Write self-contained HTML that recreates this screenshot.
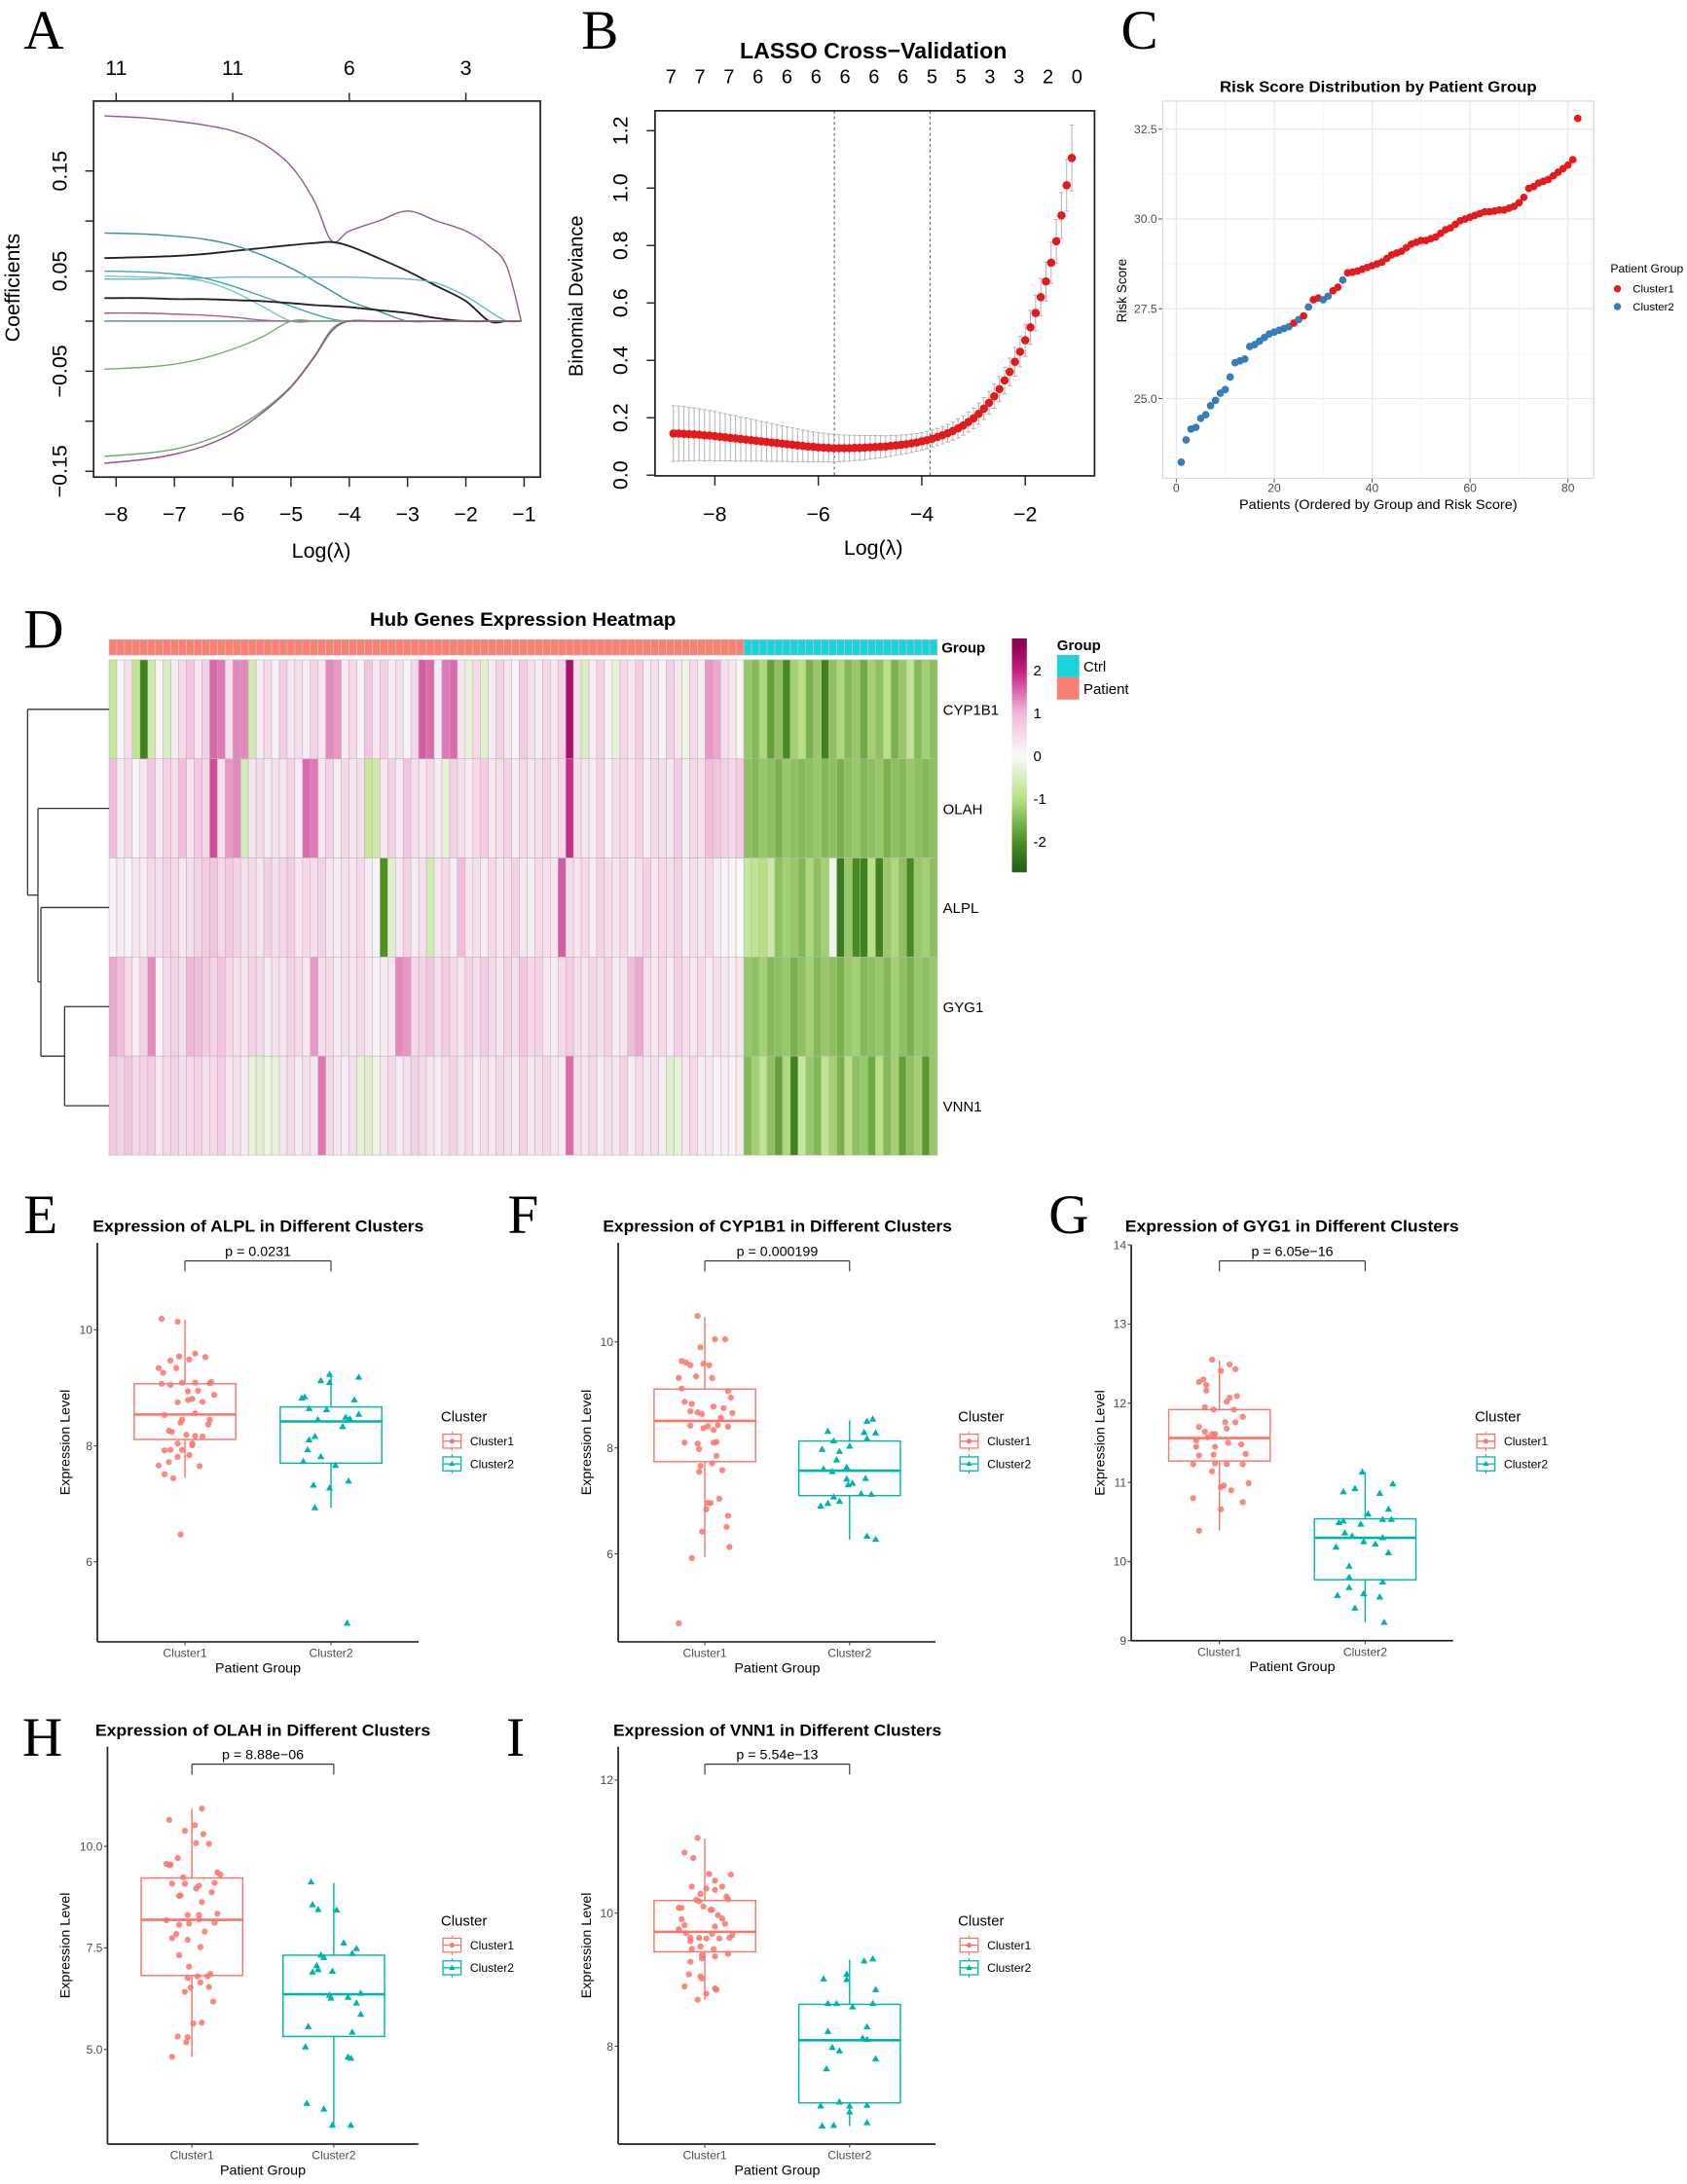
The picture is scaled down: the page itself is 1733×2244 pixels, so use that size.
<!DOCTYPE html>
<html><head><meta charset="utf-8">
<style>html,body{margin:0;padding:0;background:#fff}svg{display:block}</style>
</head><body>
<svg id="fig" xmlns="http://www.w3.org/2000/svg" width="1733" height="2244" viewBox="0 0 1213 1571" preserveAspectRatio="none" font-family="'Liberation Sans', Arial, sans-serif"></svg>
<script>
// ===== Panel A data (LASSO coefficient paths) =====
const aGrid=[-8.2,-7.5,-7,-6.5,-6,-5.5,-5,-4.6,-4.3,-4,-3.5,-3,-2.5,-2,-1.6,-1.3,-1.05];
const aTopLam=[-8,-6,-4,-2];
const aTopLabels=['11','11','6','3'];
const aXTicks=[-8,-7,-6,-5,-4,-3,-2,-1];
const aYTicks=[0.15,0.10,0.05,0,-0.05,-0.10,-0.15];
const aYLabels=['0.15','','0.05','','\u22120.05','','\u22120.15'];
const aPath1=[0.205,0.203,0.2,0.196,0.19,0.178,0.155,0.12,0.08,0.09,0.1,0.11,0.1,0.09,0.075,0.055,0];
const aPath2=[0.063,0.064,0.065,0.067,0.07,0.073,0.076,0.078,0.079,0.075,0.063,0.05,0.035,0.02,0,0,0];
const aPath3=[0.088,0.087,0.085,0.082,0.076,0.066,0.053,0.04,0.03,0.02,0.01,0,0,0,0,0,0];
const aPath4=[0.042,0.042,0.043,0.043,0.044,0.044,0.044,0.044,0.044,0.044,0.043,0.042,0.038,0.025,0.01,0,0];
const aPath5=[0.05,0.049,0.047,0.043,0.035,0.025,0.015,0.007,0.002,0,0,0,0,0,0,0,0];
const aPath6=[0.045,0.044,0.043,0.04,0.03,0.015,0,0,0,0,0,0,0,0,0,0,0];
const aPath7=[0.023,0.023,0.022,0.022,0.021,0.02,0.018,0.016,0.015,0.014,0.011,0.008,0.003,0,0,0,0];
const aPath8=[0.008,0.008,0.007,0.006,0.004,0.001,0,0,0,0,0,0,0,0,0,0,0];
const aPath9=[-0.048,-0.046,-0.043,-0.037,-0.028,-0.016,0,0,0,0,0,0,0,0,0,0,0];
const aPath10=[-0.135,-0.132,-0.128,-0.12,-0.108,-0.09,-0.065,-0.035,-0.008,0,0,0,0,0,0,0,0];
const aPath11=[-0.142,-0.138,-0.133,-0.125,-0.112,-0.092,-0.066,-0.036,-0.01,0,0,0,0,0,0,0,0];
const aPath12=[0,0,0,0,0,0,0,0,0,0,0,0,0,0,0,0,0];

// ===== Panel B data (CV deviance) =====
const bLam=[-8.8,-8.7,-8.6,-8.5,-8.4,-8.3,-8.2,-8.1,-8.0,-7.9,-7.8,-7.7,-7.6,-7.5,-7.4,-7.3,-7.2,-7.1,-7.0,-6.9,-6.8,-6.7,-6.6,-6.5,-6.4,-6.3,-6.2,-6.1,-6.0,-5.9,-5.8,-5.7,-5.6,-5.5,-5.4,-5.3,-5.2,-5.1,-5.0,-4.9,-4.8,-4.7,-4.6,-4.5,-4.4,-4.3,-4.2,-4.1,-4.0,-3.9,-3.8,-3.7,-3.6,-3.5,-3.4,-3.3,-3.2,-3.1,-3.0,-2.9,-2.8,-2.7,-2.6,-2.5,-2.4,-2.3,-2.2,-2.1,-2.0,-1.9,-1.8,-1.7,-1.6,-1.5,-1.4,-1.3,-1.2,-1.1];
const bDev=[.145,.145,.144,.143,.142,.141,.139,.138,.136,.134,
.132,.130,.128,.126,.124,.122,.120,.118,.116,.114,
.112,.110,.108,.106,.104,.102,.100,.099,.097,.096,
.095,.094,.094,.094,.094,.095,.095,.096,.097,.098,
.099,.100,.102,.104,.106,.108,.111,.114,.118,.122,
.127,.133,.139,.146,.154,.163,.173,.185,.198,.214,
.232,.252,.275,.300,.330,.360,.395,.430,.470,.515,
.565,.620,.675,.740,.815,.905,1.010,1.105];
const bSe=[.097,.096,.095,.093,.092,.090,.089,.087,.086,.084,
.082,.080,.079,.077,.075,.073,.071,.069,.068,.066,
.064,.062,.060,.059,.057,.055,.054,.052,.051,.050,
.049,.048,.047,.046,.045,.044,.043,.042,.041,.040,
.039,.037,.036,.035,.034,.033,.032,.031,.030,.030,
.030,.030,.030,.031,.032,.033,.034,.035,.036,.037,
.038,.040,.042,.044,.046,.048,.050,.053,.056,.059,
.062,.065,.068,.072,.076,.080,.090,.115];
const bTopCounts=['7','7','7','6','6','6','6','6','6','5','5','3','3','2','0'];
const bXTicks=[-8,-6,-4,-2];
const bYTicks=[0,0.2,0.4,0.6,0.8,1.0,1.2];
const bYLabels=['0.0','0.2','0.4','0.6','0.8','1.0','1.2'];
const bVLines=[-5.69,-3.84];

// ===== Panel C data (risk scores, ordered) =====
const cScore=[23.23,23.85,24.15,24.2,24.45,24.55,24.8,24.95,25.15,25.25,25.6,26.0,26.05,26.1,26.45,26.5,26.6,26.7,26.8,26.85,26.9,26.95,27.0,27.1,27.2,27.3,27.55,27.75,27.8,27.75,27.85,28.0,28.1,28.3,28.5,28.52,28.55,28.6,28.65,28.7,28.75,28.8,28.9,29.0,29.05,29.1,29.2,29.3,29.35,29.4,29.4,29.45,29.5,29.6,29.7,29.75,29.85,29.95,30.0,30.05,30.1,30.15,30.2,30.2,30.22,30.25,30.25,30.3,30.35,30.45,30.6,30.85,30.9,31.0,31.05,31.1,31.2,31.3,31.4,31.5,31.65,32.8];
const cGroup=['b','b','b','b','b','b','b','b','b','b','b','b','b','b','b','b','b','b','b','b','b','b','b','r','b','r','b','r','r','b','b','r','r','b','r','r','r','r','r','r','r','r','r','r','r','r','r','r','r','r','r','r','r','r','r','r','r','r','r','r','r','r','r','r','r','r','r','r','r','r','r','r','r','r','r','r','r','r','r','r','r','r'];
const cXTicks=[0,20,40,60,80];
const cYTicks=[25,27.5,30,32.5];
const cYLabels=['25.0','27.5','30.0','32.5'];

// ===== Panel D data (heatmap z-scores) =====
const dGenes=['CYP1B1','OLAH','ALPL','GYG1','VNN1'];
const dPatientN=82, dCtrlN=25;
const dCYP1B1=[-0.8,0.1,0.4,-0.9,-2.2,-0.7,0.1,-0.5,0.2,0.5,
0.8,0.3,0.6,1.5,1.4,0.4,1.3,1.3,-0.6,0.2,
0.5,0.1,0.7,0.3,0.4,0.2,0.6,0.3,1.3,1.2,
0.2,0.5,0.1,0.8,0.3,0.6,0.2,0.4,0.1,0.5,
1.6,1.5,0.2,1.4,1.5,0.3,-0.3,0.5,-0.4,0.2,
0.6,0.3,0.1,0.7,0.4,0.2,0.5,0.3,0.6,2.3,
0.4,-0.5,0.2,0.6,0.1,-0.3,0.5,0.3,0.7,0.2,
0.4,0.1,0.6,0.3,-0.2,0.5,0.2,1.2,1.1,0.4,
0.3,0.1,
-1.3,-1.5,-1.1,-1.8,-1.4,-2.1,-1.2,-1.0,-1.6,-1.3,-2.2,-1.4,-1.1,-1.5,-1.3,-1.7,-1.2,-1.4,-1.0,-1.6,-1.3,-0.9,-1.5,-1.2,-1.4];
const dOLAH=[0.9,0.2,0.5,0.1,0.3,0.8,0.2,0.6,0.4,0.9,
0.3,0.7,0.5,1.7,0.4,1.2,1.3,-0.6,0.3,0.5,
0.2,0.4,0.3,0.6,0.2,1.5,1.4,0.3,0.6,0.2,
0.5,0.3,0.4,-0.8,-0.7,0.3,0.6,0.2,0.8,0.4,
0.3,0.5,0.2,-0.3,0.6,0.4,0.2,0.5,0.7,0.3,
0.4,0.6,0.2,0.5,0.3,0.4,0.6,0.3,0.5,1.9,
0.4,0.3,0.2,0.6,0.1,0.4,0.5,0.3,0.6,0.2,
0.5,0.4,0.3,0.7,0.2,0.5,0.4,0.9,0.8,0.6,
0.5,0.7,
-1.4,-1.5,-1.3,-1.4,-1.6,-1.3,-1.4,-1.5,-1.4,-1.3,-1.5,-1.4,-1.6,-1.4,-1.3,-1.5,-1.4,-1.3,-1.6,-1.4,-1.5,-1.3,-1.4,-1.5,-1.4];
const dALPL=[0.1,0.2,0.1,0.3,0.2,0.5,0.4,0.6,0.5,0.3,
0.4,0.6,0.7,0.8,0.5,0.7,0.6,0.4,0.5,0.3,
0.6,0.4,0.5,0.7,0.3,0.5,0.4,0.6,0.3,0.2,
0.4,0.3,0.5,0.2,0.1,-2.0,-0.4,0.3,0.6,0.2,
0.4,-0.6,0.3,0.5,0.2,0.9,0.3,0.4,0.2,0.5,
0.3,0.4,0.6,0.3,0.2,0.5,0.4,0.3,1.6,0.4,
0.3,0.5,0.2,0.6,0.4,0.3,0.5,0.2,0.4,0.6,
0.3,0.5,0.4,0.6,0.2,0.4,0.3,0.5,0.2,0.1,
0.1,0.0,
-0.8,-0.9,-1.0,-0.7,-1.4,-1.2,-1.3,-1.5,-1.1,-1.4,-1.2,-0.2,-2.3,-1.3,-2.1,-2.2,-1.0,-2.2,-1.3,-1.1,-1.4,-2.1,-1.3,-1.2,-1.4];
const dGYG1=[1.1,0.9,0.5,0.2,0.6,1.3,0.1,0.5,0.6,0.4,
1.0,0.9,0.7,0.6,0.8,0.5,0.4,0.3,0.6,0.5,
0.2,0.4,0.3,0.6,0.5,0.3,1.2,0.4,0.5,0.2,
0.4,0.3,0.5,0.3,0.1,0.2,0.3,1.3,1.2,0.5,
0.6,0.8,0.4,0.7,0.5,0.3,0.6,0.4,0.7,0.5,
0.3,0.6,0.4,0.8,0.5,0.6,0.3,0.2,0.5,0.7,
0.4,0.3,0.5,0.4,0.6,0.2,0.3,0.9,1.1,0.4,
0.3,0.5,0.2,0.6,0.4,0.3,0.5,0.2,0.4,0.3,
0.2,0.3,
-1.3,-1.4,-1.2,-1.5,-1.4,-1.3,-1.6,-1.4,-1.2,-1.5,-1.3,-1.4,-1.6,-1.3,-1.2,-1.5,-1.4,-1.3,-1.5,-1.2,-1.4,-1.6,-1.3,-1.4,-1.3];
const dVNN1=[0.7,0.6,0.8,0.5,0.6,0.7,0.3,0.5,0.6,0.4,
0.5,0.6,0.4,0.5,0.7,0.3,0.4,0.2,-0.3,-0.4,
-0.2,-0.3,0.3,0.5,0.2,0.4,0.3,1.4,0.5,0.3,
0.2,0.4,-0.3,-0.4,-0.2,0.3,0.5,0.2,0.4,0.6,
0.5,0.3,0.2,0.4,0.6,0.3,0.5,0.2,0.4,0.3,
0.5,0.4,0.2,0.6,0.3,0.4,0.5,0.3,0.2,1.5,
0.4,0.3,0.5,0.2,0.4,0.3,0.6,0.2,0.5,0.3,
0.4,0.2,-0.4,-0.3,0.3,0.5,0.2,0.3,0.1,0.2,
0.1,0.2,
-1.5,-1.2,-0.9,-1.4,-1.8,-1.1,-2.2,-0.8,-1.3,-1.5,-0.9,-1.2,-1.6,-1.0,-1.4,-1.3,-1.7,-1.0,-1.5,-1.2,-1.8,-1.4,-1.2,-1.9,-1.3];
const dLegendTicks=[2,1,0,-1,-2];
const dMergeHeights=[2.75,2.4,2.3,1.5]; // root, node2, node3, node4

// ===== Box plot data =====
const eV1=[10.19,10.14,9.34,9.26,9.47,9.54,9.34,9.49,9.59,9.53,9.07,9.05,9.09,9.09,9.08,9.1,8.94,8.95,8.75,8.81,8.79,8.76,8.88,8.53,8.56,8.45,8.4,8.45,8.37,8.26,8.24,8.19,8.17,8.16,8.04,8.04,8.01,7.92,7.93,7.93,7.81,7.84,7.66,7.72,7.65,7.51,7.44,6.47];
const eJ1=[-0.16,-0.05,-0.18,-0.15,-0.1,-0.04,-0.06,0.03,0.07,0.14,-0.16,-0.1,-0.02,0.07,0.17,0.18,0.02,0.09,-0.05,0.05,0.02,0.12,0.2,-0.14,0.07,-0.02,-0.03,0.17,0.16,-0.11,-0.09,0.01,0.07,0.12,-0.05,0.05,0.05,-0.14,-0.1,-0.02,-0.05,0.03,-0.18,-0.11,0.1,-0.14,-0.08,-0.03];
const eV2=[9.23,9.12,9.09,9.18,8.82,8.84,8.79,8.64,8.62,8.54,8.45,8.49,8.44,8.46,8.33,8.1,8.16,7.93,7.81,7.73,7.66,7.32,7.27,7.39,6.93,4.94];
const eJ2=[-0.01,-0.07,-0.01,0.19,-0.2,-0.18,0.16,-0.15,-0.03,0.19,-0.09,0.1,0.12,0.13,0.08,-0.15,-0.11,-0.16,-0.07,-0.19,0.03,-0.12,-0.01,0.12,-0.11,0.11];
const eBox1=[7.45,8.11,8.54,9.07,10.17];
const eBox2=[6.93,7.7,8.42,8.67,9.25];

const fV1=[10.49,10.05,10.05,9.9,9.64,9.61,9.56,9.59,9.56,9.32,9.35,9.32,9.12,9.07,8.95,8.87,8.83,8.78,8.75,8.69,8.67,8.64,8.66,8.57,8.42,8.37,8.41,8.43,8.4,8.34,8.1,8.08,8.1,8.11,7.98,7.85,7.71,7.66,7.55,7.58,7.04,6.96,6.96,6.84,6.72,6.51,6.42,6.13,5.92,4.69];
const fJ1=[-0.05,0.07,0.14,-0.03,-0.16,-0.13,-0.1,-0.01,0.03,-0.18,-0.06,0.05,-0.16,0.16,0.18,-0.14,-0.09,0.06,0.13,-0.1,-0.05,-0.02,0.19,0.11,-0.1,-0.01,0.02,0.09,0.16,0.06,-0.14,-0.05,0.06,0.08,-0.04,0.08,0.05,-0.03,-0.04,0.12,0.1,0.02,0.04,0.01,0.16,0.15,-0.02,0.17,-0.09,-0.18];
const fV2=[8.54,8.5,8.31,8.29,8.28,8.17,8.13,8.03,7.97,7.93,7.77,7.6,7.55,7.63,7.41,7.42,7.33,7.3,7.13,7.12,7.07,6.99,6.9,6.95,6.33,6.27];
const fJ2=[0.16,0.12,-0.15,0.1,0.18,0.12,-0.11,0,-0.19,-0.07,-0.09,-0.18,-0.12,-0.02,-0.02,0.11,0.02,-0.01,0.08,0.15,-0.11,-0.07,-0.2,-0.15,0.12,0.18];
const fBox1=[5.94,7.74,8.51,9.11,10.47];
const fBox2=[6.27,7.1,7.57,8.13,8.52];

const gV1=[12.55,12.49,12.43,12.41,12.27,12.3,12.23,12.16,12.09,12.07,12.02,11.95,11.92,11.92,11.83,11.7,11.76,11.76,11.68,11.64,11.61,11.61,11.57,11.53,11.5,11.48,11.45,11.45,11.35,11.36,11.34,11.23,11.24,11.23,11.23,11.14,10.99,10.96,10.94,10.9,10.8,10.75,10.66,10.39];
const gJ1=[-0.05,0.07,0.11,0.01,-0.14,-0.11,-0.09,-0.09,0.12,0.07,0.05,-0.1,-0.04,0.1,0.16,-0.14,0.04,0.11,0.05,-0.1,-0.05,-0.03,-0.08,-0.16,0.06,0.15,-0.03,-0.16,-0.04,0.18,-0.14,-0.18,-0.03,0.05,0.16,-0.05,0.2,0.03,0.01,0.08,-0.18,0.16,0.01,-0.14];
const gV2=[11.13,10.98,10.88,10.92,10.86,10.66,10.6,10.49,10.51,10.53,10.53,10.47,10.36,10.32,10.3,10.25,10.22,10.18,10.11,9.94,9.8,9.74,9.67,9.57,9.59,9.55,9.41,9.23];
const gJ2=[-0.02,0.19,-0.15,-0.07,0.1,0.16,0.02,-0.18,-0.15,0.12,0.18,-0.03,-0.14,-0.09,0.12,-0.01,0.07,-0.2,0.16,-0.11,-0.11,0.12,-0.11,-0.19,-0.01,0.1,-0.07,0.13];
const gBox1=[10.39,11.27,11.56,11.92,12.54];
const gBox2=[9.23,9.77,10.3,10.54,11.13];

const hV1=[10.93,10.65,10.52,10.38,10.3,10.08,10.06,9.71,9.57,9.55,9.54,9.36,9.3,9.24,9.08,9.08,9.1,9.03,8.96,8.87,8.78,8.79,8.63,8.34,8.31,8.31,8.18,8.2,8.12,8.07,8.1,7.9,7.84,7.74,7.7,7.52,7.32,7.04,6.86,6.8,6.8,6.76,6.65,6.52,6.42,6.54,6.18,5.64,5.66,5.32,5.3,5.18,4.82];
const hJ1=[0.07,-0.16,0.02,-0.05,0.08,0.03,0.12,-0.1,-0.18,-0.15,-0.16,0.18,0.2,-0.06,-0.14,-0.05,0.16,0.05,0.03,0.14,-0.09,-0.08,0.07,0.18,-0.03,0.05,-0.18,0.05,0.16,-0.09,-0.02,0.09,-0.11,-0.14,-0.03,0.06,-0.09,-0.02,0.13,0.11,0.04,-0.03,0.06,-0.01,-0.05,0.12,0.15,0.01,0.07,-0.1,-0.03,-0.04,-0.14];
const hV2=[9.12,8.56,8.44,8.43,7.62,7.48,7.32,7.26,7.36,7.06,6.96,6.9,6.92,6.38,6.33,6.26,6.28,6.14,5.86,5.56,5.42,5.06,4.81,4.78,3.67,3.53,3.13,3.13];
const hJ2=[-0.16,-0.15,-0.11,0.02,0.07,0.16,-0.09,-0.07,0.13,-0.12,-0.11,-0.15,-0.01,0.19,-0.03,-0.02,0.1,0.16,0.19,-0.18,0.13,-0.2,0.1,0.12,-0.19,-0.07,-0.01,0.12];
const hBox1=[4.82,6.82,8.19,9.22,10.93];
const hBox2=[3.11,5.32,6.36,7.32,9.1];

const iV1=[11.13,10.91,10.83,10.59,10.58,10.49,10.4,10.37,10.35,10.4,10.29,10.25,10.21,10.2,10.18,10.1,10.08,10.08,10.05,10.05,9.97,9.92,9.84,9.91,9.82,9.8,9.76,9.7,9.69,9.67,9.63,9.63,9.62,9.62,9.63,9.58,9.5,9.46,9.46,9.37,9.39,9.35,9.32,9.27,9.08,9.05,9.02,8.9,8.87,8.85,8.79,8.7];
const iJ1=[-0.05,-0.14,-0.08,0.03,0.18,0.07,-0.09,0.01,0.07,0.12,-0.03,0.15,0.16,-0.06,-0.04,-0.01,-0.18,-0.16,0.04,0.05,0.09,0.12,0.14,-0.16,-0.14,0.07,-0.18,-0.13,0.05,0.19,-0.1,-0.04,0.01,0.1,0.17,-0.1,-0.03,-0.09,0.06,-0.02,0.16,0.07,-0.02,-0.1,-0.11,-0.03,-0.02,-0.14,0.07,0.08,0.01,-0.05];
const iV2=[9.28,9.31,9.08,9.01,9.0,8.85,8.64,8.64,8.59,8.64,8.29,8.22,8.12,8.1,7.98,7.93,7.81,7.66,7.16,7.1,7.11,7.1,7.01,6.85,6.8,6.81];
const iJ2=[0.1,0.16,-0.02,-0.18,-0.02,0.18,-0.15,-0.09,0.02,0.16,0.12,-0.15,0.09,0.12,-0.12,-0.07,0.18,-0.16,-0.07,-0.2,0.12,0,0,0.12,-0.19,-0.11];
const iBox1=[8.7,9.42,9.72,10.19,11.12];
const iBox2=[6.8,7.15,8.09,8.63,9.3];

// ===== drawing helpers =====
const NS='http://www.w3.org/2000/svg';
const svg=document.getElementById('fig');
function mk(tag,attrs,parent){const e=document.createElementNS(NS,tag);for(const k in attrs)e.setAttribute(k,attrs[k]);(parent||svg).appendChild(e);return e;}
function T(x,y,s,o,name){
  o=o||{};
  const e=mk('text',{x:x,y:y,'font-size':o.size||10,'text-anchor':o.anchor||'start',fill:o.fill||'#000'});
  if(o.weight)e.setAttribute('font-weight',o.weight);
  if(o.fam)e.setAttribute('font-family',o.fam);
  if(o.rot)e.setAttribute('transform','rotate('+o.rot+' '+x+' '+y+')');
  if(o.len){e.setAttribute('textLength',o.len);e.setAttribute('lengthAdjust','spacingAndGlyphs');}
  e.textContent=s;
  
  
  return e;
}
function L(x1,y1,x2,y2,stroke,w,name,dash){
  const e=mk('line',{x1:x1,y1:y1,x2:x2,y2:y2,stroke:stroke,'stroke-width':w});
  if(dash)e.setAttribute('stroke-dasharray',dash);
  
  
  return e;
}
function smoothPath(pts){
  let d='M'+pts[0][0]+','+pts[0][1];
  for(let i=0;i<pts.length-1;i++){
    const p0=pts[Math.max(0,i-1)],p1=pts[i],p2=pts[i+1],p3=pts[Math.min(pts.length-1,i+2)];
    const c1x=p1[0]+(p2[0]-p0[0])/6,c1y=p1[1]+(p2[1]-p0[1])/6;
    const c2x=p2[0]-(p3[0]-p1[0])/6,c2y=p2[1]-(p3[1]-p1[1])/6;
    d+=' C'+c1x+','+c1y+' '+c2x+','+c2y+' '+p2[0]+','+p2[1];
  }
  return d;
}
const SERIF="'Liberation Serif', serif";

// ===== Panel letters =====
T(17,35,'A',{size:40,fam:SERIF},'panel-label-a');
T(418,35,'B',{size:40,fam:SERIF},'panel-label-b');
T(806,35,'C',{size:40,fam:SERIF},'panel-label-c');
T(17,466,'D',{size:40,fam:SERIF},'panel-label-d');
T(17,887,'E',{size:40,fam:SERIF},'panel-label-e');
T(365,887,'F',{size:40,fam:SERIF},'panel-label-f');
T(754,887,'G',{size:40,fam:SERIF},'panel-label-g');
T(16,1263,'H',{size:40,fam:SERIF},'panel-label-h');
T(364,1263,'I',{size:40,fam:SERIF},'panel-label-i');

// ===== Panel A =====
(function(){
  const sx=l=>83.5+(l+8)*41.91, sy=c=>231-c*720;
  const X0=67.3,X1=388.5,Y0=72.7,Y1=343.2;
  const paths=[[aPath12,'#4a80c0'],[aPath1,'#8f5f8f'],[aPath2,'#222222'],[aPath3,'#3f8fa0'],[aPath4,'#6fb8c0'],[aPath5,'#4aa3b0'],[aPath6,'#78c8d0'],[aPath7,'#222222'],[aPath8,'#b05a8a'],[aPath9,'#7aaa70'],[aPath10,'#6aa86a'],[aPath11,'#9a4f8a']];
  paths.forEach((p,k)=>{
    const pts=aGrid.map((l,i)=>[sx(l),sy(p[0][i])]);
    const e=mk('path',{d:smoothPath(pts),fill:'none',stroke:p[1],'stroke-width':k===2||k===7?1.3:1});
    
    
  });
  const box=mk('rect',{x:X0,y:Y0,width:X1-X0,height:Y1-Y0,fill:'none',stroke:'#222','stroke-width':1.2});
  
  
  aXTicks.forEach(t=>{L(sx(t),Y1,sx(t),Y1+7,'#222',1,'x-tick-a');T(sx(t),375,(t<0?'\u2212':'')+Math.abs(t),{size:15,anchor:'middle'},'x-tick-label-a');});
  aTopLam.forEach((t,i)=>{L(sx(t),Y0,sx(t),Y0-6,'#222',1,'top-tick-a');T(sx(t),54,aTopLabels[i],{size:15,anchor:'middle'},'top-count-label-a');});
  aYTicks.forEach((t,i)=>{L(X0,sy(t),X0-6,sy(t),'#222',1,'y-tick-a');if(aYLabels[i])T(48,sy(t),aYLabels[i],{size:15,anchor:'middle',rot:-90},'y-tick-label-a');});
  T(231,401,'Log(\u03bb)',{size:15,anchor:'middle'},'x-axis-title-a');
  T(14,207,'Coefficients',{size:15,anchor:'middle',rot:-90},'y-axis-title-a');
})();

// ===== Panel B =====
(function(){
  const sx=l=>514+(l+8)*37.2, sy=v=>341.8-v*206.5;
  const X0=471,X1=787,Y0=79.7,Y1=342.3;
  bVLines.forEach(l=>L(sx(l),Y0,sx(l),Y1,'#666',0.8,'cv-lambda-line','2,2'));
  bLam.forEach((l,i)=>{
    const x=sx(l),lo=sy(bDev[i]-bSe[i]),hi=sy(bDev[i]+bSe[i]);
    L(x,lo,x,hi,'#b3b3b3',0.7,'error-bar');
    L(x-1.6,lo,x+1.6,lo,'#b3b3b3',0.7,'error-cap-low');
    L(x-1.6,hi,x+1.6,hi,'#b3b3b3',0.7,'error-cap-high');
  });
  bLam.forEach((l,i)=>{
    const c=mk('circle',{cx:sx(l),cy:sy(bDev[i]),r:3,fill:'#e31a1c'});
    
    
  });
  const box=mk('rect',{x:X0,y:Y0,width:X1-X0,height:Y1-Y0,fill:'none',stroke:'#222','stroke-width':1.2});
  
  
  bXTicks.forEach(t=>{L(sx(t),Y1,sx(t),Y1+7,'#222',1,'x-tick-b');T(sx(t),375,'\u2212'+Math.abs(t),{size:15,anchor:'middle'},'x-tick-label-b');});
  bYTicks.forEach((t,i)=>{L(X0,sy(t),X0-6,sy(t),'#222',1,'y-tick-b');T(451,sy(t),bYLabels[i],{size:15,anchor:'middle',rot:-90},'y-tick-label-b');});
  bTopCounts.forEach((s,i)=>T(482.5+i*20.85,60,s,{size:14,anchor:'middle'},'top-count-label-b'));
  T(628,42,'LASSO Cross\u2212Validation',{size:16,anchor:'middle',weight:'bold',len:192},'chart-title-b');
  T(628,399,'Log(\u03bb)',{size:15,anchor:'middle'},'x-axis-title-b');
  T(419,213,'Binomial Deviance',{size:14,anchor:'middle',rot:-90},'y-axis-title-b');
})();

// ===== Panel C =====
(function(){
  const sx=i=>845.8+i*3.52, sy=v=>157.5-(v-30)*25.84;
  const X0=836,X1=1146,Y0=72.7,Y1=344;
  [26.25,28.75,31.25].forEach(v=>L(X0,sy(v),X1,sy(v),'#f3f3f3',0.6,'minor-grid-c'));
  [10,30,50,70].forEach(v=>L(sx(v),Y0,sx(v),Y1,'#f3f3f3',0.6,'minor-grid-c'));
  cYTicks.forEach((t,i)=>{L(X0,sy(t),X1,sy(t),'#e8e8e8',0.8,'major-grid-c');L(X0,sy(t),X0-3,sy(t),'#555',0.7,'y-tick-c');T(X0-4,sy(t)+3,cYLabels[i],{size:8.5,anchor:'end',fill:'#4d4d4d'},'y-tick-label-c');});
  cXTicks.forEach(t=>{L(sx(t),Y0,sx(t),Y1,'#e8e8e8',0.8,'major-grid-c');L(sx(t),Y1,sx(t),Y1+3,'#555',0.7,'x-tick-c');T(sx(t),354,String(t),{size:8.5,anchor:'middle',fill:'#4d4d4d'},'x-tick-label-c');});
  const fr=mk('rect',{x:X0,y:Y0,width:X1-X0,height:Y1-Y0,fill:'none',stroke:'#d9d9d9','stroke-width':0.8});
  
  
  cScore.forEach((v,i)=>{
    const c=mk('circle',{cx:sx(i+1),cy:sy(v),r:2.7,fill:cGroup[i]==='r'?'#e41a1c':'#377eb8'});
    
    
  });
  T(991,66,'Risk Score Distribution by Patient Group',{size:11,anchor:'middle',weight:'bold',len:228},'chart-title-c');
  T(991,366,'Patients (Ordered by Group and Risk Score)',{size:9.5,anchor:'middle',len:200},'x-axis-title-c');
  T(810,209,'Risk Score',{size:9.5,anchor:'middle',rot:-90},'y-axis-title-c');
  T(1158,196,'Patient Group',{size:8.5},'legend-title-c');
  const l1=mk('circle',{cx:1163,cy:207.7,r:2.6,fill:'#e41a1c'});
  
  
  T(1174,210.5,'Cluster1',{size:8},'legend-label-cluster1');
  const l2=mk('circle',{cx:1163,cy:220.5,r:2.6,fill:'#377eb8'});
  
  
  T(1174,223.3,'Cluster2',{size:8},'legend-label-cluster2');
})();

// ===== Panel D heatmap =====
(function(){
  const rows=[dCYP1B1,dOLAH,dALPL,dGYG1,dVNN1];
  const X0=78.4,X1=674,Y0=474.6,Y1=831,n=dPatientN+dCtrlN;
  const cw=(X1-X0)/n, rh=(Y1-Y0)/rows.length;
  const stops=[[-2.6,[39,100,25]],[-2,[77,146,33]],[-1,[184,225,134]],[0,[250,250,250]],[1,[241,182,218]],[2,[197,27,125]],[2.6,[142,1,82]]];
  function col(v){
    if(v<=stops[0][0])return 'rgb('+stops[0][1]+')';
    for(let i=0;i<stops.length-1;i++){const a=stops[i],b=stops[i+1];
      if(v<=b[0]){const t=(v-a[0])/(b[0]-a[0]);return 'rgb('+a[1].map((c,k)=>Math.round(c+(b[1][k]-c)*t)).join(',')+')';}}
    return 'rgb('+stops[stops.length-1][1]+')';
  }
  for(let j=0;j<n;j++){
    const r=mk('rect',{x:X0+j*cw,y:460,width:cw,height:11.3,fill:j<dPatientN?'#fa8072':'#1ed2dc',stroke:'#c8c8c8','stroke-width':0.4});
    
    
  }
  rows.forEach((row,ri)=>{
    row.forEach((v,j)=>{
      const r=mk('rect',{x:X0+j*cw,y:Y0+ri*rh,width:cw,height:rh,fill:col(v),stroke:'#b8b8b8','stroke-width':0.4});
      
      
    });
    T(678,Y0+ri*rh+rh/2+4,dGenes[ri],{size:10.5},'gene-label');
  });
  T(677,469.5,'Group',{size:10.5,weight:'bold'},'group-annotation-label');
  T(376,450,'Hub Genes Expression Heatmap',{size:13.5,anchor:'middle',weight:'bold',len:220},'chart-title-d');
  // dendrogram
  const yc=i=>Y0+i*rh+rh/2;
  const hx=h=>X0-h*21.3;
  const n4y=(yc(3)+yc(4))/2, n3y=(yc(2)+n4y)/2, n2y=(yc(1)+n3y)/2;
  const xr=hx(dMergeHeights[0]),x2=hx(dMergeHeights[1]),x3=hx(dMergeHeights[2]),x4=hx(dMergeHeights[3]);
  const segs=[[x4,yc(3),X0,yc(3)],[x4,yc(4),X0,yc(4)],[x4,yc(3),x4,yc(4)],
    [x3,yc(2),X0,yc(2)],[x3,n4y,x4,n4y],[x3,yc(2),x3,n4y],
    [x2,yc(1),X0,yc(1)],[x2,n3y,x3,n3y],[x2,yc(1),x2,n3y],
    [xr,yc(0),X0,yc(0)],[xr,n2y,x2,n2y],[xr,yc(0),xr,n2y]];
  segs.forEach(s=>L(s[0],s[1],s[2],s[3],'#333',0.9,'dendrogram-branch'));
  // color bar legend
  const cb0=459.2,cb1=627.2,vTop=2.73,vBot=-2.72;
  for(let k=0;k<84;k++){
    const y=cb0+k*(cb1-cb0)/84, v=vTop-(k+0.5)/84*(vTop-vBot);
    const r=mk('rect',{x:727.6,y:y,width:10.7,height:(cb1-cb0)/84+0.3,fill:col(v)});
    
    
  }
  dLegendTicks.forEach(t=>{const y=cb0+(vTop-t)/(vTop-vBot)*(cb1-cb0);T(743,y+4,(t<0?'-':'')+Math.abs(t),{size:10.5},'colorbar-tick-label');});
  T(760,467.5,'Group',{size:10.5,weight:'bold'},'group-legend-title');
  const k1=mk('rect',{x:760,y:471.2,width:16,height:16,fill:'#1ed2dc'});
  
  
  const k2=mk('rect',{x:760,y:487.2,width:16,height:16,fill:'#fa8072'});
  
  
  T(779,483,'Ctrl',{size:10.5},'legend-label-ctrl');
  T(779,499,'Patient',{size:10.5},'legend-label-patient');
})();

// ===== Box plot panels =====
const C1='#f8766d',C2='#00b3ad';
function tri(cx,cy,s,fill){const h=s*0.87;return mk('polygon',{points:(cx)+','+(cy-h*0.62)+' '+(cx-s/2)+','+(cy+h*0.38)+' '+(cx+s/2)+','+(cy+h*0.38),fill:fill});}
function boxPanel(cfg){
  const sy=v=>cfg.bot-(v-cfg.lo)/(cfg.hi-cfg.lo)*(cfg.bot-cfg.top);
  const hw=36.5;
  [[cfg.c1,cfg.box1,C1],[cfg.c2,cfg.box2,C2]].forEach(b=>{
    const [cx,s,c]=b;
    L(cx,sy(s[0]),cx,sy(s[1]),c,1,'whisker-lower');
    L(cx,sy(s[3]),cx,sy(s[4]),c,1,'whisker-upper');
    const r=mk('rect',{x:cx-hw,y:sy(s[3]),width:hw*2,height:sy(s[1])-sy(s[3]),fill:'none',stroke:c,'stroke-width':1});
    
    
    L(cx-hw,sy(s[2]),cx+hw,sy(s[2]),c,1.8,'box-median');
  });
  const span=cfg.c2-cfg.c1;
  cfg.v1.forEach((v,i)=>{
    const p=mk('circle',{cx:cfg.c1+cfg.j1[i]*span,cy:sy(v),r:2.2,fill:C1,'fill-opacity':0.85});
    
    
  });
  cfg.v2.forEach((v,i)=>{
    const p=tri(cfg.c2+cfg.j2[i]*span,sy(v),5.2,C2);
    
    
  });
  // axes
  L(cfg.ax,cfg.top,cfg.ax,cfg.bot,'#222',1.2,'y-axis-line');
  L(cfg.ax,cfg.bot,cfg.ar,cfg.bot,'#222',1.2,'x-axis-line');
  cfg.ticks.forEach((t,i)=>{L(cfg.ax,sy(t),cfg.ax-2.5,sy(t),'#444',0.8,'y-tick');T(cfg.ax-3.5,sy(t)+3,cfg.tickLabels[i],{size:8.5,anchor:'end',fill:'#4d4d4d'},'y-tick-label');});
  [[cfg.c1,'Cluster1'],[cfg.c2,'Cluster2']].forEach(c=>{L(c[0],cfg.bot,c[0],cfg.bot+2.5,'#444',0.8,'x-tick');T(c[0],cfg.bot+11,c[1],{size:8.5,anchor:'middle',fill:'#4d4d4d'},'x-tick-label');});
  T((cfg.c1+cfg.c2)/2,cfg.bot+22,'Patient Group',{size:10,anchor:'middle'},'x-axis-title');
  T(cfg.yt,(cfg.top+cfg.bot)/2,'Expression Level',{size:10,anchor:'middle',rot:-90},'y-axis-title');
  T(cfg.tx,cfg.ty,cfg.title,{size:11.5,anchor:'middle',weight:'bold',len:cfg.tlen},'chart-title');
  // p bracket
  L(cfg.c1,cfg.br,cfg.c2,cfg.br,'#333',0.8,'p-bracket');
  L(cfg.c1,cfg.br,cfg.c1,cfg.br+7.5,'#333',0.8,'p-bracket-left');
  L(cfg.c2,cfg.br,cfg.c2,cfg.br+7.5,'#333',0.8,'p-bracket-right');
  T((cfg.c1+cfg.c2)/2,cfg.br-3.5,cfg.p,{size:10,anchor:'middle'},'p-value-label');
  // legend
  T(cfg.lx,cfg.ly+4,'Cluster',{size:10.5},'legend-title');
  [[C1,'Cluster1',18.2],[C2,'Cluster2',34.5]].forEach((e,k)=>{
    const y=cfg.ly+e[2],x=cfg.lx+1.5;
    L(x+6.5,y-7,x+6.5,y+7,e[0],0.8,'legend-key-whisker');
    const r=mk('rect',{x:x,y:y-5,width:13,height:10,fill:'#fff',stroke:e[0],'stroke-width':0.9});
    
    
    L(x,y,x+13,y,e[0],0.9,'legend-key-median');
    if(k===0){const d=mk('circle',{cx:x+6.5,cy:y,r:1.8,fill:e[0]});}
    else{const d=tri(x+6.5,y,4.4,e[0]);}
    T(x+19.5,y+3,e[1],{size:8.5},'legend-label');
  });
}
boxPanel({ax:70,ar:301,top:894,bot:1181,c1:133,c2:238,lo:4.62,hi:11.5,ticks:[6,8,10],tickLabels:['6','8','10'],v1:eV1,j1:eJ1,v2:eV2,j2:eJ2,box1:eBox1,box2:eBox2,yt:50,tx:185.7,ty:886,tlen:238,title:'Expression of ALPL in Different Clusters',br:907,p:'p = 0.0231',lx:317,ly:1018.5});
boxPanel({ax:444.5,ar:672.7,top:894,bot:1181,c1:506.8,c2:610.9,lo:4.34,hi:11.87,ticks:[6,8,10],tickLabels:['6','8','10'],v1:fV1,j1:fJ1,v2:fV2,j2:fJ2,box1:fBox1,box2:fBox2,yt:425,tx:559,ty:886,tlen:251,title:'Expression of CYP1B1 in Different Clusters',br:907,p:'p = 0.000199',lx:688.8,ly:1018.5});
boxPanel({ax:813.4,ar:1044.8,top:895.5,bot:1180.2,c1:876.8,c2:981.6,lo:9,hi:14,ticks:[9,10,11,12,13,14],tickLabels:['9','10','11','12','13','14'],v1:gV1,j1:gJ1,v2:gV2,j2:gJ2,box1:gBox1,box2:gBox2,yt:794,tx:929,ty:886,tlen:240,title:'Expression of GYG1 in Different Clusters',br:907,p:'p = 6.05e\u221216',lx:1060.4,ly:1018.5});
boxPanel({ax:77.3,ar:300.8,top:1256.5,bot:1542.3,c1:138,c2:240,lo:2.67,hi:12.45,ticks:[5,7.5,10],tickLabels:['5.0','7.5','10.0'],v1:hV1,j1:hJ1,v2:hV2,j2:hJ2,box1:hBox1,box2:hBox2,yt:50,tx:189,ty:1248.5,tlen:241,title:'Expression of OLAH in Different Clusters',br:1269,p:'p = 8.88e\u221206',lx:317,ly:1381});
boxPanel({ax:444.5,ar:672.7,top:1256.5,bot:1542.3,c1:506.8,c2:610.9,lo:6.53,hi:12.5,ticks:[8,10,12],tickLabels:['8','10','12'],v1:iV1,j1:iJ1,v2:iV2,j2:iJ2,box1:iBox1,box2:iBox2,yt:425,tx:559,ty:1248.5,tlen:236,title:'Expression of VNN1 in Different Clusters',br:1269,p:'p = 5.54e\u221213',lx:688.8,ly:1381});
</script>
</body></html>
